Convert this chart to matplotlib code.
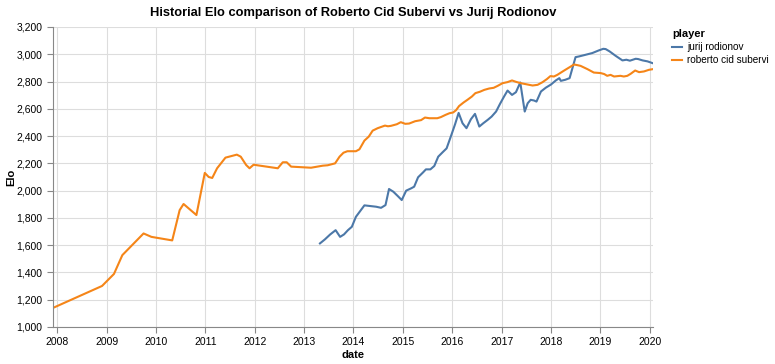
import matplotlib
matplotlib.use("Agg")
import matplotlib.pyplot as plt
import matplotlib.dates as mdates
import matplotlib.ticker as mticker
import pandas as pd

plt.rcParams['font.family'] = ['Liberation Sans', 'DejaVu Sans']

# roberto cid subervi
roberto_dates = [
    "2007-12-01", "2008-11-28", "2009-02-24", "2009-04-27", "2009-10-01", "2009-11-28",
    "2010-05-01", "2010-06-25", "2010-07-24", "2010-10-27", "2010-12-28", "2011-01-26",
    "2011-02-21", "2011-03-29", "2011-05-30", "2011-08-22", "2011-09-20", "2011-10-30",
    "2011-11-24", "2011-12-24", "2012-06-20", "2012-07-27", "2012-08-25", "2012-09-27",
    "2013-02-21", "2013-05-19", "2013-06-24", "2013-08-18", "2013-09-20", "2013-10-19",
    "2013-11-17", "2014-01-19", "2014-02-14", "2014-03-23", "2014-04-24", "2014-05-23",
    "2014-06-29", "2014-08-22", "2014-09-13", "2014-10-05", "2014-11-18", "2014-12-17",
    "2015-01-19", "2015-02-17", "2015-04-02", "2015-05-16", "2015-06-14", "2015-07-17",
    "2015-09-13", "2015-10-09", "2015-11-14", "2015-12-13", "2016-01-08", "2016-01-30",
    "2016-02-21", "2016-03-25", "2016-04-23", "2016-05-26", "2016-06-21", "2016-07-24",
    "2016-08-26", "2016-10-01", "2016-11-03", "2016-12-02", "2017-01-08", "2017-02-14",
    "2017-03-19", "2017-04-17", "2017-05-23", "2017-06-28", "2017-08-18", "2017-09-24",
    "2017-10-30", "2017-12-02", "2017-12-28", "2018-01-23", "2018-02-17", "2018-04-09",
    "2018-05-27", "2018-06-21", "2018-07-17", "2018-08-08", "2018-09-28", "2018-11-14",
    "2019-01-04", "2019-01-30", "2019-02-21", "2019-03-18", "2019-04-13", "2019-05-30",
    "2019-06-24", "2019-07-20", "2019-08-14", "2019-09-16", "2019-10-15", "2019-11-20",
    "2019-12-27", "2020-01-26",
]
roberto_elo = [
    1140, 1301, 1389, 1527, 1686, 1661,
    1635, 1857, 1902, 1821, 2130, 2100,
    2093, 2164, 2242, 2264, 2249, 2188,
    2164, 2190, 2164, 2208, 2208, 2176,
    2168, 2183, 2186, 2200, 2249, 2278,
    2289, 2289, 2303, 2367, 2396, 2440,
    2458, 2477, 2472, 2475, 2487, 2502,
    2490, 2492, 2509, 2517, 2536, 2531,
    2531, 2539, 2556, 2568, 2573, 2590,
    2620, 2646, 2666, 2690, 2715, 2725,
    2739, 2749, 2754, 2768, 2788, 2796,
    2808, 2798, 2788, 2781, 2771, 2776,
    2795, 2818, 2840, 2837, 2849, 2881,
    2910, 2925, 2920, 2915, 2891, 2866,
    2862, 2855, 2842, 2849, 2837, 2842,
    2837, 2842, 2857, 2881, 2869, 2874,
    2886, 2891,
]

# jurij rodionov
jurij_dates = [
    "2013-04-28", "2013-06-03", "2013-07-13", "2013-08-22", "2013-09-24", "2013-10-23",
    "2013-11-21", "2013-12-20", "2014-01-19", "2014-02-21", "2014-03-23", "2014-06-18",
    "2014-07-24", "2014-08-26", "2014-09-21", "2014-10-23", "2014-11-25", "2014-12-24",
    "2015-01-26", "2015-03-04", "2015-03-26", "2015-04-24", "2015-05-31", "2015-06-21",
    "2015-07-24", "2015-08-22", "2015-09-20", "2015-10-23", "2015-11-21", "2015-12-24",
    "2016-01-23", "2016-02-18", "2016-03-18", "2016-04-16", "2016-05-19", "2016-06-18",
    "2016-07-20", "2016-08-18", "2016-09-20", "2016-10-19", "2016-11-21", "2016-12-20",
    "2017-01-19", "2017-02-14", "2017-03-19", "2017-04-17", "2017-05-19", "2017-06-21",
    "2017-07-13", "2017-08-04", "2017-08-29", "2017-09-16", "2017-10-19", "2017-11-24",
    "2018-01-01", "2018-02-06", "2018-03-04", "2018-03-15", "2018-04-17", "2018-05-19",
    "2018-07-02", "2018-07-27", "2018-09-13", "2018-11-03", "2018-12-20", "2019-01-23",
    "2019-02-10", "2019-03-11", "2019-04-24", "2019-06-14", "2019-07-13", "2019-08-08",
    "2019-09-20", "2019-10-08", "2019-11-10", "2019-12-16", "2020-01-23",
]
jurij_elo = [
    1613, 1642, 1679, 1710, 1661, 1679,
    1710, 1735, 1808, 1852, 1892, 1882,
    1874, 1894, 2012, 1992, 1960, 1931,
    2000, 2017, 2029, 2098, 2134, 2156,
    2156, 2181, 2249, 2282, 2310, 2402,
    2488, 2570, 2494, 2458, 2524, 2563,
    2470, 2494, 2519, 2543, 2580, 2636,
    2690, 2734, 2702, 2722, 2793, 2580,
    2641, 2666, 2661, 2653, 2727, 2755,
    2778, 2808, 2825, 2805, 2813, 2825,
    2979, 2984, 2996, 3009, 3028, 3040,
    3038, 3021, 2989, 2955, 2960, 2953,
    2967, 2965, 2955, 2948, 2935,
]

jr = pd.to_datetime(jurij_dates)
rc = pd.to_datetime(roberto_dates)

fig = plt.figure(figsize=(7.75, 3.64), dpi=100)
ax = fig.add_axes([53/775, 1 - 327/364, 600/775, 300/364])

ax.plot(jr, jurij_elo, color='#4c78a8', lw=1.5, label='jurij rodionov')
ax.plot(rc, roberto_elo, color='#f58518', lw=1.5, label='roberto cid subervi')

ax.set_xlim(min(rc.min(), jr.min()), max(rc.max(), jr.max()))
ax.set_ylim(1000, 3200)
ax.yaxis.set_major_locator(mticker.MultipleLocator(200))
ax.yaxis.set_major_formatter(mticker.StrMethodFormatter('{x:,.0f}'))
ax.xaxis.set_major_locator(mdates.YearLocator())
ax.xaxis.set_major_formatter(mdates.DateFormatter('%Y'))

ax.grid(True, color='#dddddd', lw=0.8)
ax.set_axisbelow(True)
for s in ['top', 'right']:
    ax.spines[s].set_visible(False)
for s in ['left', 'bottom']:
    ax.spines[s].set_color('#888888')
    ax.spines[s].set_linewidth(0.8)
ax.tick_params(colors='#888888', labelcolor='black', labelsize=7.5, length=4, width=0.8)

ax.set_xlabel('date', fontsize=8, fontweight='bold', labelpad=2)
ax.set_ylabel('Elo', fontsize=8, fontweight='bold', labelpad=0)
ax.set_title('Historial Elo comparison of Roberto Cid Subervi vs Jurij Rodionov',
             fontsize=9.3, fontweight='bold', pad=8)

leg = fig.legend(loc='upper left', bbox_to_anchor=(663/775, 1 - 20/364), frameon=False,
                 title='player', fontsize=7.2, handlelength=1.0, handletextpad=0.5,
                 labelspacing=0.3, alignment='left')
leg.get_title().set_fontweight('bold')
leg.get_title().set_fontsize(8)

fig.savefig('out.png', dpi=100)
